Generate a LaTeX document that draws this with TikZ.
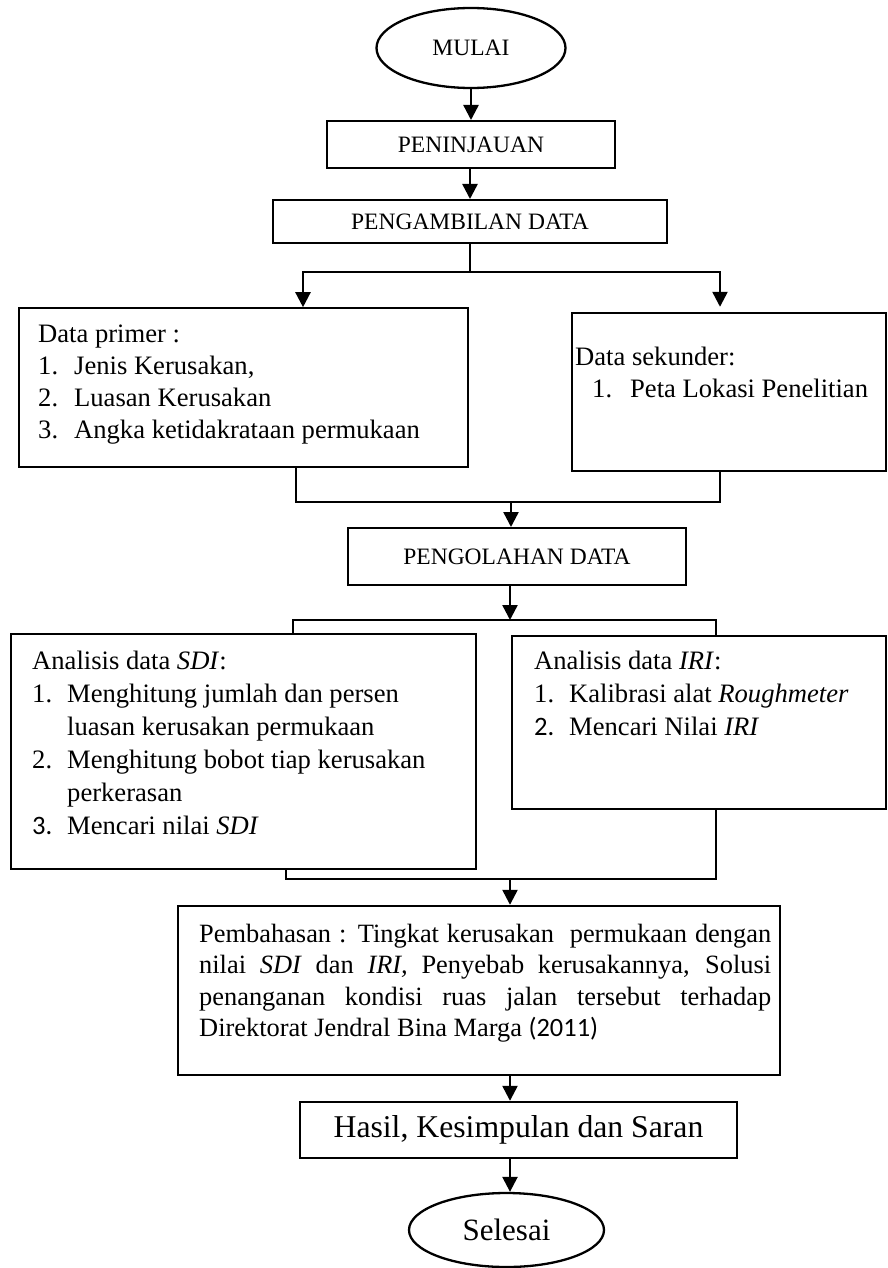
\documentclass[tikz,border=0pt]{standalone}
\usepackage{fontspec}
\setmainfont{Liberation Serif}
\newfontfamily\calib{Carlito}
\usetikzlibrary{arrows.meta,shapes.geometric}
\begin{document}
\begin{tikzpicture}[x=1pt,y=-1pt,
  box/.style={draw, rectangle, line width=2.4pt, inner sep=0pt},
  thinbox/.style={box, line width=1.6pt},
  term/.style={draw, ellipse, line width=2.3pt, inner sep=0pt},
  conn/.style={line width=2.4pt},
  arr/.style={conn, -{Triangle[length=15pt,width=15pt]}},
  biarr/.style={conn, {Triangle[length=15pt,width=15pt]}-{Triangle[length=15pt,width=15pt]}},
  caps/.style={font=\fontsize{23.5}{28}\selectfont},
  body/.style={inner sep=0pt, align=left, font=\fontsize{26.6}{32}\selectfont},
  bodyw/.style={inner sep=0pt, align=left, font=\fontsize{26.6}{33}\selectfont}
]
\path[fill=white] (0,0) rectangle (888,1268);
\useasboundingbox (0,0) rectangle (888,1268);

% terminals and boxes
\node[term, caps, minimum width=189pt, minimum height=80pt] (mulai) at (471,48) {MULAI};
\node[thinbox, line width=2pt, caps, minimum width=288pt, minimum height=47pt] (penin) at (471,144.5) {PENINJAUAN};
\node[box, line width=2pt, caps, minimum width=394pt, minimum height=43pt] (ambil) at (470,221.5) {PENGAMBILAN DATA};
\node[thinbox, minimum width=449pt, minimum height=159pt] (primer) at (243.5,387.5) {};
\node[box, minimum width=314pt, minimum height=158pt] (sekunder) at (729,392) {};
\node[box, line width=2pt, caps, minimum width=338pt, minimum height=57pt] (olah) at (517,556.5) {PENGOLAHAN DATA};
\node[box, minimum width=465pt, minimum height=235pt] (sdi) at (243.5,751.5) {};
\node[box, minimum width=374pt, minimum height=173pt] (iri) at (699,722.5) {};
\node[box, minimum width=602pt, minimum height=169pt] (bahas) at (479,990.5) {};
\node[box, minimum width=437pt, minimum height=56pt, font=\fontsize{31.7}{38}\selectfont] (hasil) at (518.5,1130) {Hasil, Kesimpulan dan Saran};
\node[term, minimum width=195pt, minimum height=74pt, font=\fontsize{31}{37}\selectfont] (selesai) at (506.5,1230) {Selesai};

% box texts
\node[body, text width=425pt, anchor=base west] (primerT) at (38,342)
  {\spaceskip=0pt \xspaceskip=0pt
   Data primer :\\
   \makebox[36pt][l]{1.}Jenis Kerusakan,\\
   \makebox[36pt][l]{2.}Luasan Kerusakan\\
   \makebox[36pt][l]{3.}Angka ketidakrataan permukaan};
\node[body, text width=305pt, anchor=base west] (sekunderT) at (575,365)
  {\spaceskip=0pt \xspaceskip=0pt
   Data sekunder:\\
   \hspace*{17pt}\makebox[38pt][l]{1.}Peta Lokasi Penelitian};
\node[bodyw, text width=440pt, anchor=base west] (sdiT) at (32,669)
  {\spaceskip=0pt \xspaceskip=0pt
   Analisis data \textit{SDI}:\\
   \makebox[35pt][l]{1.}Menghitung jumlah dan persen\\
   \hspace*{35pt}luasan kerusakan permukaan\\
   \makebox[35pt][l]{2.}Menghitung bobot tiap kerusakan\\
   \hspace*{35pt}perkerasan\\
   \makebox[35pt][l]{\calib 3.}Mencari nilai \textit{SDI}};
\node[bodyw, text width=345pt, anchor=base west] (iriT) at (534,669)
  {\spaceskip=0pt \xspaceskip=0pt
   Analisis data \textit{IRI}:\\
   \makebox[35pt][l]{1.}Kalibrasi alat \textit{Roughmeter}\\
   \makebox[35pt][l]{\calib 2.}Mencari Nilai \textit{IRI}};
\node[inner sep=0pt, align=justify, text width=572pt, anchor=base west,
      font=\fontsize{26.4}{31.5}\selectfont] (bahasT) at (199,942)
  {\hyphenpenalty=10000 \tolerance=10000 \spaceskip=0pt \xspaceskip=0pt
   Pembahasan : Tingkat kerusakan\ \ permukaan dengan\linebreak
   nilai \textit{SDI} dan \textit{IRI,} Penyebab kerusakannya, Solusi\linebreak
   penanganan kondisi ruas jalan tersebut terhadap\linebreak
   Direktorat Jendral Bina Marga {\calib (2011)}};

% connectors
\coordinate (axis) at (510,0);
\coordinate (sL) at (303,272);
\coordinate (sR) at (720,272);
\coordinate (jL) at (296,502);
\coordinate (jR) at (720,502);
\coordinate (jM) at (511,502);
\coordinate (kL) at (293,620);
\coordinate (kR) at (716,620);
\coordinate (mL) at (286,879);
\coordinate (mR) at (716,879);

\draw[arr] (mulai.south) -- (mulai.south |- penin.north);
\draw[arr] (ambil.north |- penin.south) -- (ambil.north);
\draw[conn] (ambil.south) -- (ambil.south |- sL);
\draw[biarr, shorten >=5pt] (sL |- primer.north) -- (sL) -- (sR) -- (sR |- sekunder.north);
\draw[conn] (jL |- primer.south) -- (jL) -- (jR) -- (jR |- sekunder.south);
\draw[arr] (jM) -- (jM |- olah.north);
\draw[arr] (axis |- olah.south) -- (axis |- kL);
\draw[conn] (kL |- sdi.north) -- (kL) -- (kR) -- (kR |- iri.north);
\draw[conn] (mL |- sdi.south) -- (mL) -- (mR) -- (mR |- iri.south);
\draw[arr] (axis |- mL) -- (axis |- bahas.north);
\draw[arr] (axis |- bahas.south) -- (axis |- hasil.north);
\draw[arr] (axis |- hasil.south) -- (axis |- selesai.north);
\end{tikzpicture}
\end{document}
